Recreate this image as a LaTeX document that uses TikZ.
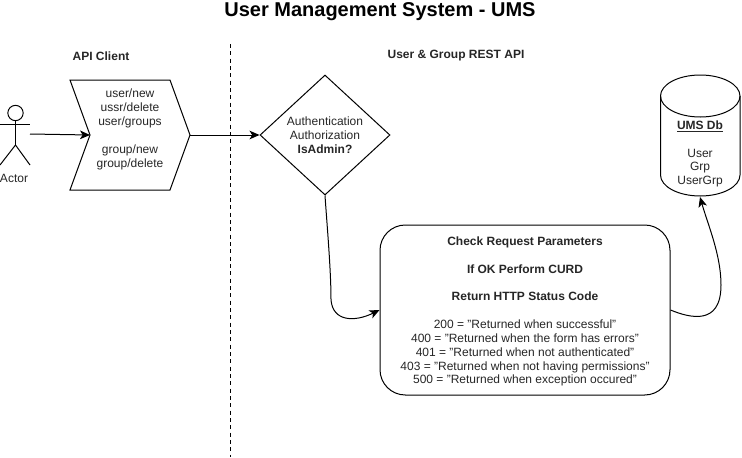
\documentclass[tikz,border=0pt]{standalone}
\usepackage{fontspec}
\setmainfont{Liberation Sans}[Ligatures=ResetAll]
\usetikzlibrary{shapes.geometric,arrows.meta,calc}
\tikzset{
  px/.style={x=0.75pt,y=-0.75pt},
  shapeline/.style={draw=black,line width=0.75pt},
  conn/.style={draw=black,line width=0.75pt,-{Stealth[length=7.5pt,width=6.5pt,inset=2pt]}},
  label/.style={font=\fontsize{9}{10.4}\selectfont,align=center,inner sep=0pt,text=black!85},
  head/.style={label,font=\fontsize{9}{10.4}\selectfont\bfseries},
  frame/.style={minimum width=0pt,minimum height=0pt,inner sep=0pt,anchor=north west},
}
\begin{document}
\begin{tikzpicture}[px]
\useasboundingbox (0,0) rectangle (742,457);
% title and headings
\node[label,font=\fontsize{15}{18}\selectfont\bfseries,text=black] (title) at (380,12) {User Management System - UMS};
\node[head] (apiclient) at (101,56) {API Client};
\node[head] (restapi) at (456,56) {User \& Group REST API};
% swimlane divider
\coordinate (divtop) at (230,44);
\coordinate (divbot) at (230,457);
\draw[black,line width=0.75pt,dashed,dash pattern=on 3pt off 2.5pt] (divtop) -- (divbot);
% actor
\node[circle,shapeline,minimum size=11.5pt,inner sep=0pt] (head) at (15.5,113) {};
\coordinate (hip) at (15.5,145);
\draw[shapeline] (head.south) -- (hip);
\draw[shapeline] (0,124) -- (30,124);
\draw[shapeline] (0,165) -- (hip) -- (30,165);
\node[label] (actor) at (14,178) {Actor};
\coordinate (actorhand) at (30,134);
% chevron
\coordinate (cA) at (70,80);
\coordinate (cB) at (170,80);
\coordinate (cTip) at (190,135);
\coordinate (cC) at (170,190);
\coordinate (cD) at (70,190);
\coordinate (cNotch) at (90,135);
\draw[shapeline] (cA) -- (cB) -- (cTip) -- (cC) -- (cD) -- (cNotch) -- cycle;
\node[label] (chevtext) at (130,129.5) {user/new\\ussr/delete\\user/groups\\[10.4pt]group/new\\group/delete};
% decision diamond
\node[diamond,shapeline,minimum width=97.5pt,minimum height=90pt,aspect=1.083,inner sep=0pt] (auth) at (325,135) {};
\node[label] (authtext) at (325,135) {Authentication\\Authorization\\\textbf{IsAdmin?}};
% process box
\node[shapeline,rounded corners=19pt,minimum width=217.5pt,minimum height=127.5pt,inner sep=0pt] (proc) at (525,310) {};
\node[label] (proctext) at (525,311.5) {\textbf{Check Request Parameters}\\[10.4pt]\textbf{If OK Perform CURD}\\[10.4pt]\textbf{Return HTTP Status Code}\\[10.4pt]200 = "Returned when successful"\\400 = "Returned when the form has errors"\\401 = "Returned when not authenticated"\\403 = "Returned when not having permissions"\\500 = "Returned when exception occured"};
% database
\coordinate (dbL) at (660.5,96);
\coordinate (dbR) at (740,96);
\coordinate (dbBR) at (740,175);
\draw[shapeline] (dbL) arc[start angle=180,end angle=0,x radius=39.75,y radius=-21]
   -- (dbBR) arc[start angle=0,end angle=-180,x radius=39.75,y radius=-21] -- cycle;
\draw[shapeline] (dbL) arc[start angle=180,end angle=360,x radius=39.75,y radius=-21];
\node[label] (dbtext) at (700,154) {\textbf{\underline{UMS Db}}\\[10.4pt]User\\Grp\\UserGrp};
\coordinate (dbbottom) at (700,197);
% connectors
\draw[conn] (actorhand) -- (cNotch);
\draw[conn] (cTip) -- (auth.west);
\draw[conn] (auth.south) .. controls (327,225) and (331,270) .. (331,300)
   .. controls (333,322) and (355,322) .. (proc.west |- 0,310);
\draw[conn] (proc.east |- 0,310) .. controls (690,318) and (721,326) .. (721,285)
   .. controls (721,255) and (708,225) .. (dbbottom);
\end{tikzpicture}
\end{document}
